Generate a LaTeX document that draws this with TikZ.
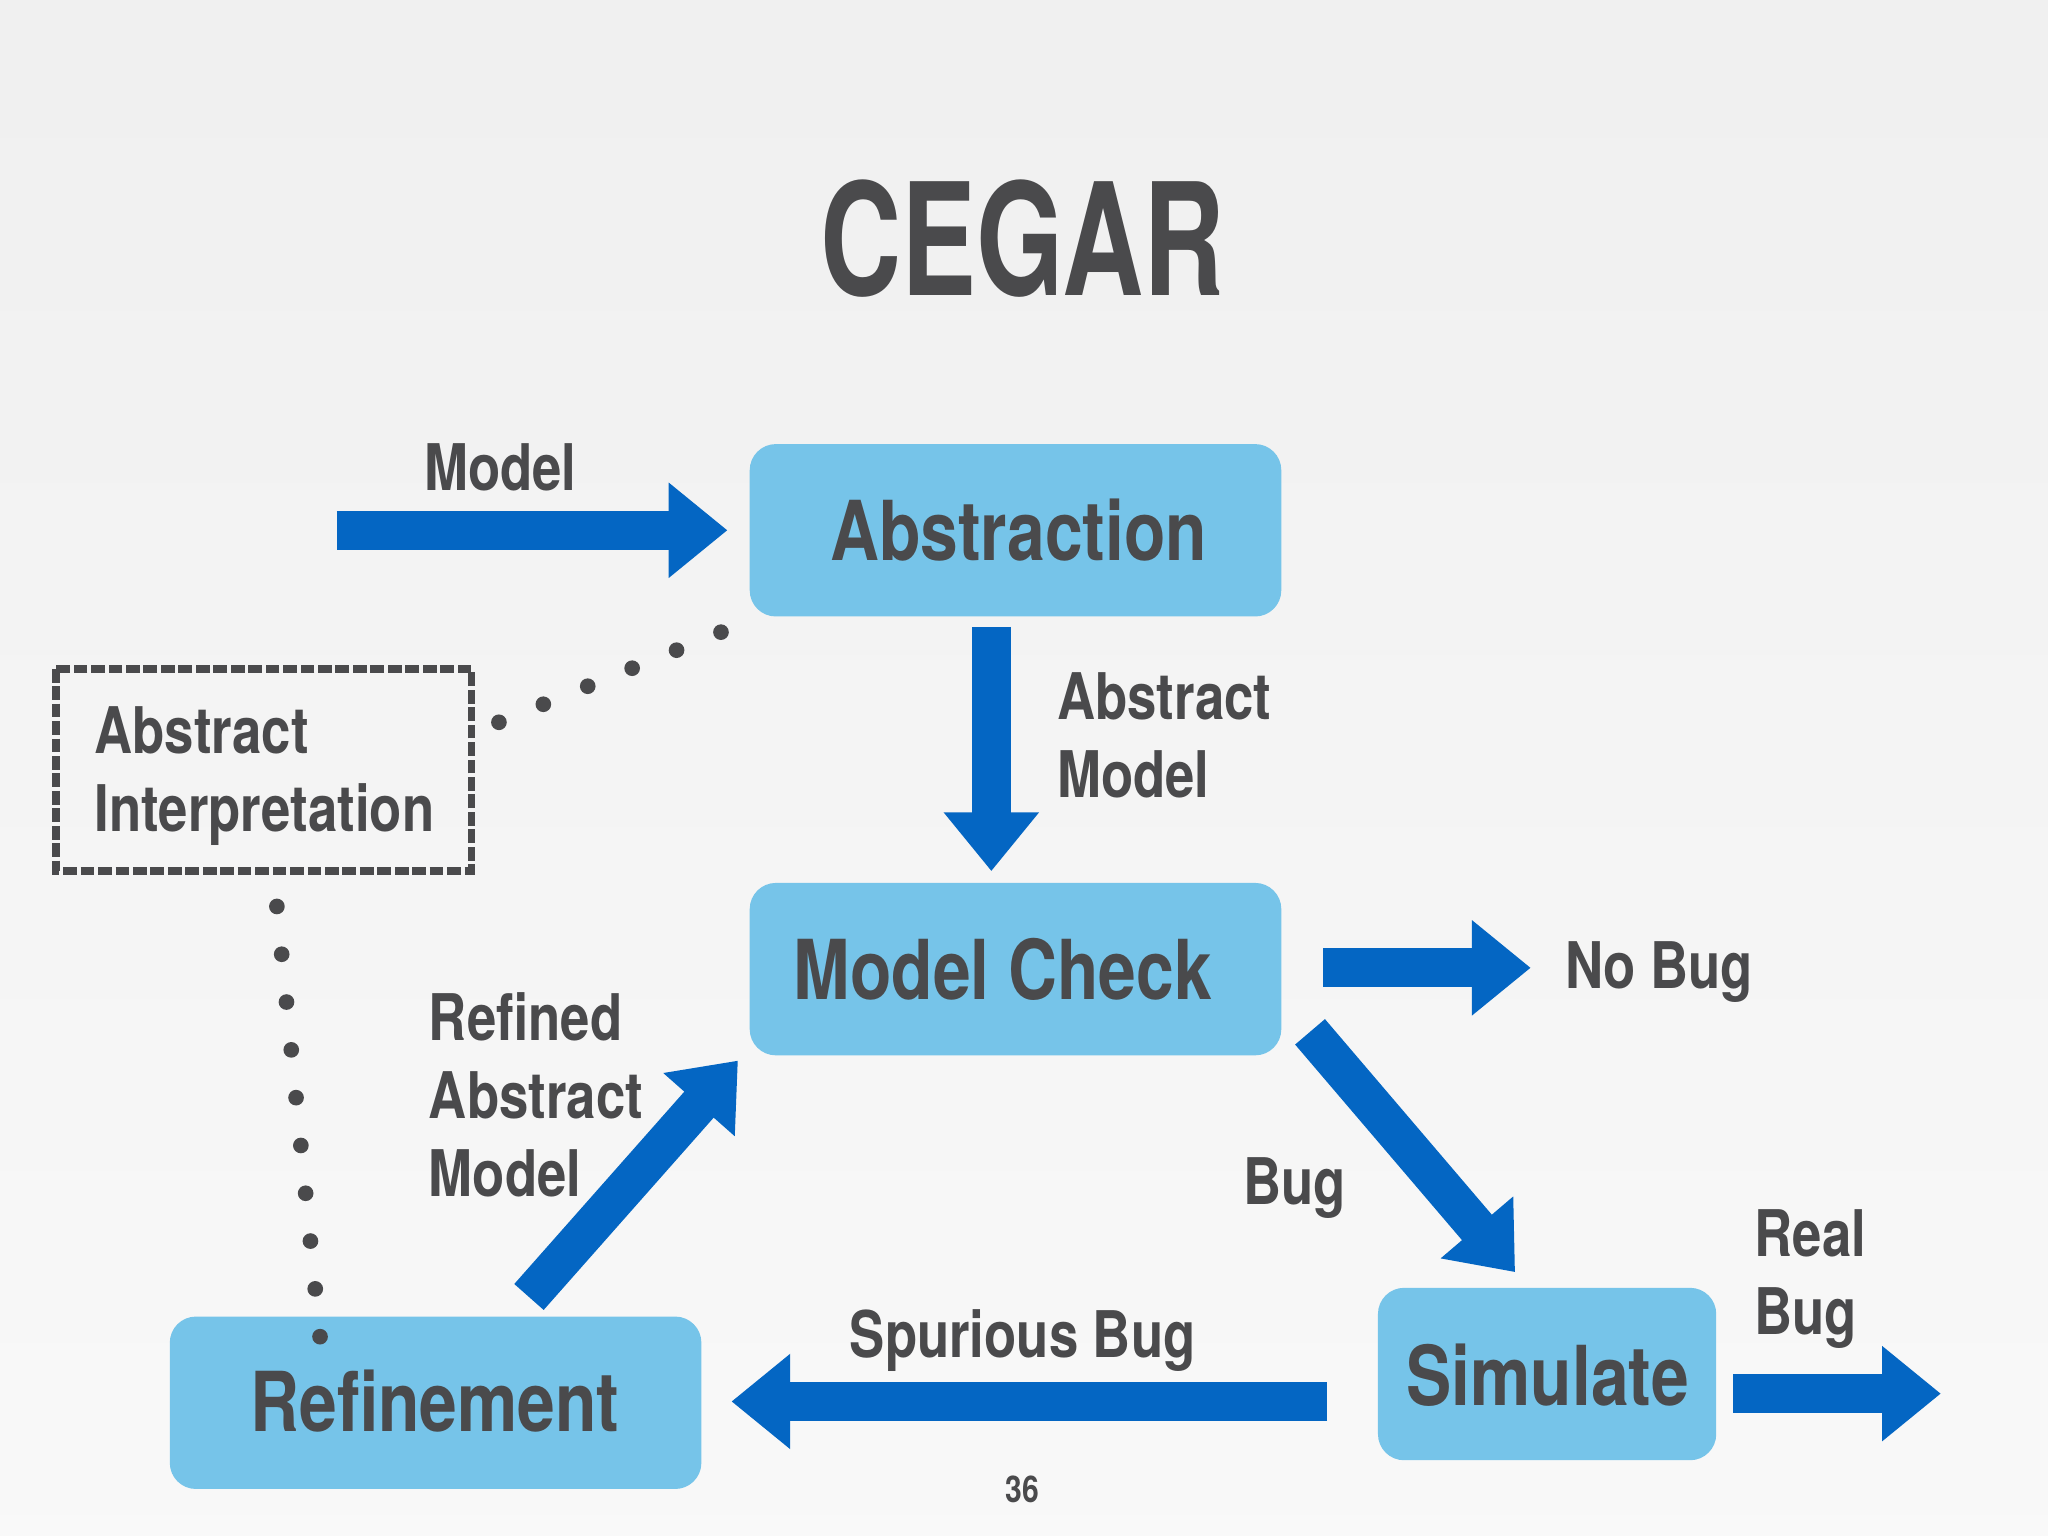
\documentclass[tikz,border=0pt]{standalone}
\usepackage{fontspec}
\setmainfont[FakeStretch=0.82,BoldFont={TeX Gyre Heros Bold}]{TeX Gyre Heros}
\newfontfamily\titlefont[FakeStretch=0.72]{TeX Gyre Heros Bold}
\usetikzlibrary{arrows.meta}
\definecolor{boxc}{HTML}{76C4E9}
\definecolor{arrc}{HTML}{0466C3}
\definecolor{txt}{HTML}{4A4A4C}
\begin{document}
\begin{tikzpicture}[x=0.01cm,y=-0.01cm,
  box/.style={fill=boxc,rounded corners=0.2cm,text=txt,font=\fontsize{18}{20}\selectfont\bfseries},
  lbl/.style={text=txt,font=\fontsize{14}{17}\selectfont\bfseries,align=left},
  fat/.style={draw=arrc,line width=0.3cm,-{Triangle[width=0.7cm,length=0.45cm]}},
  dot/.style={circle,fill=txt,inner sep=0pt,minimum size=0.12cm}]
\shade[top color=white!88!gray, bottom color=white!95!gray] (0,0) rectangle (1568,1176);
\useasboundingbox (0,0) rectangle (1568,1176);
\node[text=txt,font=\titlefont\fontsize{34}{40}\selectfont] (title) at (783,183) {CEGAR};
\path[box] (574,340) rectangle (981,472);
\node[box,fill=none] (abs) at (780,406) {Abstraction};
\path[box] (574,676) rectangle (981,808);
\node[box,fill=none] (mc) at (768,742) {Model Check};
\path[box] (130,1008) rectangle (537,1140);
\node[box,fill=none] (ref) at (333,1073) {Refinement};
\path[box] (1055,986) rectangle (1314,1118);
\node[box,fill=none] (sim) at (1185,1053) {Simulate};
\draw[draw=txt,line width=0.06cm,dash pattern=on 3pt off 0.8pt] (43,512) rectangle (361,667);
\node[lbl,anchor=west] (ai) at (60,594) {Abstract\\[0pt]Interpretation};
\coordinate (m1) at (258,406); \coordinate (m2) at (557,406);
\draw[fat] (m1) -- (m2);
\node[lbl] (lm) at (383,358) {Model};
\coordinate (d1) at (759,480); \coordinate (d2) at (759,667);
\draw[fat] (d1) -- (d2);
\node[lbl,anchor=west] (lam) at (797,563) {Abstract\\[0pt]Model};
\coordinate (n1) at (1013,741); \coordinate (n2) at (1172,741);
\draw[fat] (n1) -- (n2);
\node[lbl,anchor=west] (lnb) at (1186,744) {No Bug};
\coordinate (b1) at (1003,790); \coordinate (b2) at (1160,974);
\draw[fat] (b1) -- (b2);
\node[lbl] (lb) at (991,910) {Bug};
\coordinate (r1) at (405,993); \coordinate (r2) at (565,812);
\draw[fat] (r1) -- (r2);
\node[lbl,anchor=west] (lr) at (316,838) {Refined\\[0pt]Abstract\\[0pt]Model};
\coordinate (s1) at (1016,1073); \coordinate (s2) at (560,1073);
\draw[fat] (s1) -- (s2);
\node[lbl] (ls) at (783,1026) {Spurious Bug};
\coordinate (q1) at (1327,1067); \coordinate (q2) at (1486,1067);
\draw[fat] (q1) -- (q2);
\node[lbl,anchor=west] (lq) at (1331,979) {Real\\[0pt]Bug};
\foreach \i in {0,...,5} \node[dot] at ({382+\i*34},{553-\i*13.8}) {};
\foreach \i in {0,...,9} \node[dot] at ({212+\i*3.67},{694+\i*36.6}) {};
\node[text=txt,font=\fontsize{8}{10}\selectfont\bfseries] (pg) at (783,1140) {36};
\end{tikzpicture}
\end{document}
